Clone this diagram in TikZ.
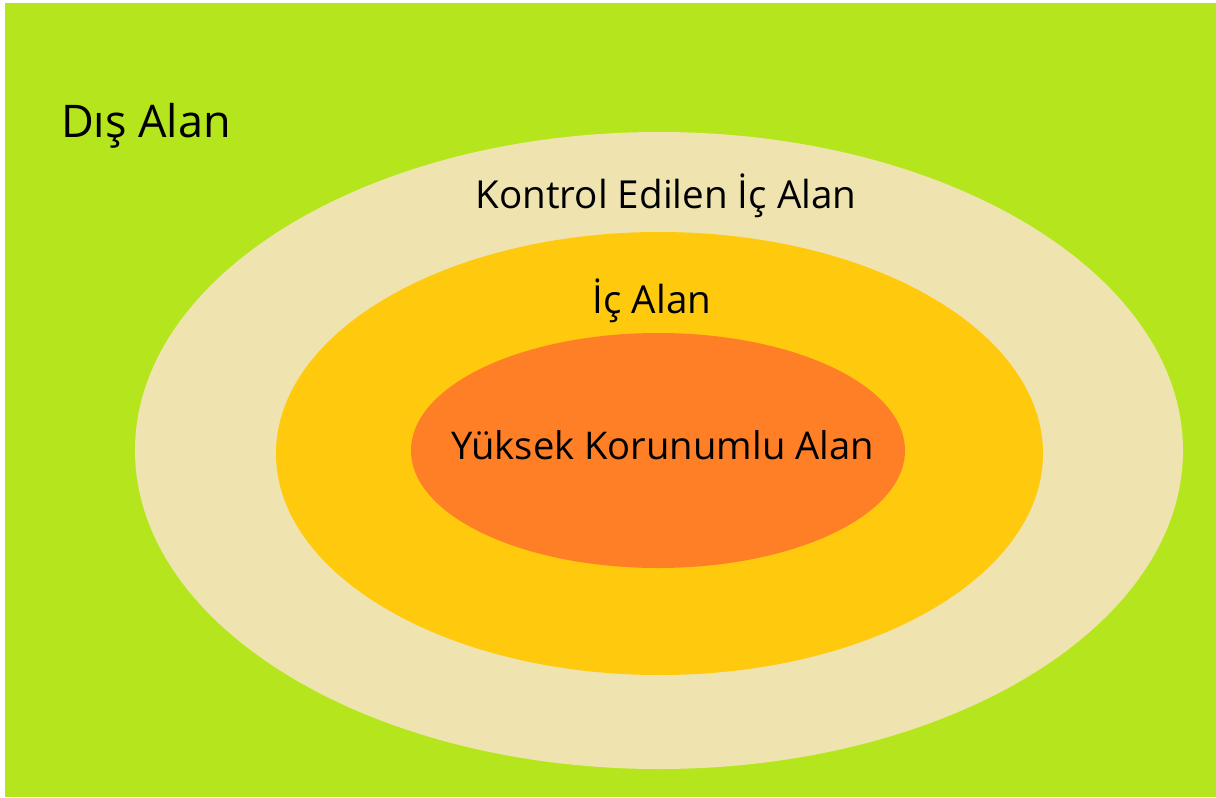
\documentclass[tikz,border=0pt]{standalone}
\usepackage{fontspec}
\setmainfont{Open Sans}
\usepackage{xcolor}
\usepackage{tikz}
\usetikzlibrary{positioning}
\definecolor{paintlime}{RGB}{181,230,29}
\definecolor{painttan}{RGB}{239,228,176}
\definecolor{paintgold}{RGB}{255,201,14}
\definecolor{paintorange}{RGB}{255,127,39}

\begin{document}
\begin{tikzpicture}[x=0.5pt, y=-0.5pt,
	zone/.style={anchor=base, inner sep=0pt, text=black, font=\fontsize{19.3}{22}\selectfont}]
			\useasboundingbox (0,0) rectangle (1216,798);
			\fill[white] (0,0) rectangle (1216,798);
			\fill[paintlime] (5,3) rectangle (1216,797);
			%% nested zones
			\fill[painttan] (659,450.5) ellipse [x radius=524, y radius=318.5];
			\fill[paintgold] (659.5,453.5) ellipse [x radius=383.5, y radius=221.5];
			\fill[paintorange] (658,450.5) ellipse [x radius=247, y radius=117.5];
			
			\node[zone, font=\fontsize{22.5}{26}\selectfont] (outer) at (146,137) {Dış Alan};
			\node[zone] (controlled) at (666,208) {Kontrol Edilen İç Alan};
			\node[zone] (inner) at (652,313) {İç Alan};
			\node[zone, font=\fontsize{19.1}{22}\selectfont] (secure) at (662.5,459) {Yüksek Korunumlu Alan};
\end{tikzpicture}
\end{document}
